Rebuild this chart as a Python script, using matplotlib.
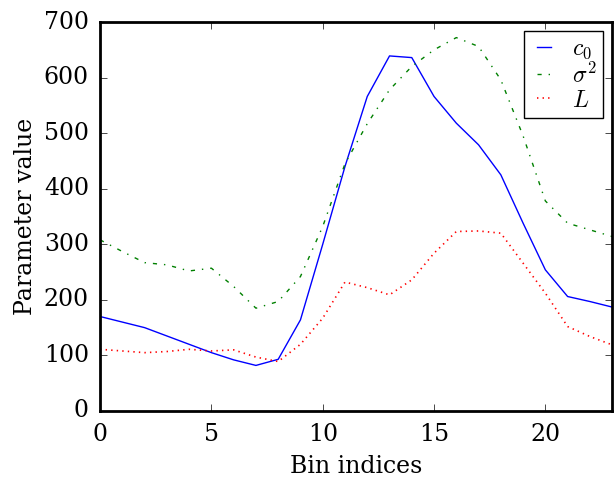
"""Parameter values per bin: c0, sigma^2 and L."""
import matplotlib
matplotlib.use("Agg")
import matplotlib.pyplot as plt

bins = list(range(24))
c0 = [170, 160, 150, 135, 120, 105, 92, 82, 93, 164, 300, 440,
      566, 639, 636, 566, 518, 479, 425, 338, 254, 206, 197, 187]
sigma2 = [308, 287, 267, 263, 252, 257, 224, 185, 197, 242, 332, 445,
          517, 578, 620, 650, 672, 656, 596, 495, 378, 338, 326, 314]
L = [111, 108, 105, 107, 111, 108, 110, 97, 89, 120, 167, 232,
     222, 209, 236, 284, 323, 324, 320, 266, 212, 152, 134, 119]

plt.style.use("classic")
plt.rcParams.update({
    "font.family": "serif",
    "font.serif": ["DejaVu Serif"],
    "font.size": 17,
    "mathtext.fontset": "cm",
    "figure.facecolor": "white",
    "savefig.facecolor": "white",
    "axes.linewidth": 2.0,
    "xtick.major.pad": 9,
    "ytick.major.pad": 8,
    "xtick.major.size": 5,
    "ytick.major.size": 5,
})

fig = plt.figure(figsize=(6.14, 4.79), dpi=100)
ax = fig.add_axes([0.163, 0.142, 0.834, 0.812])

ax.plot(bins, c0, "b-", lw=1.0, label=r"$c_0$")
ax.plot(bins, sigma2, "g-.", lw=1.0, label=r"$\sigma^2$")
ax.plot(bins, L, "r:", lw=1.2, label=r"$L$")

ax.set_xlim(0, 23)
ax.set_ylim(0, 700)
ax.set_xticks([0, 5, 10, 15, 20])
ax.set_yticks(range(0, 701, 100))
ax.set_xlabel("Bin indices", labelpad=6)
ax.set_ylabel("Parameter value")

leg = ax.legend(loc="upper right", fontsize=17, handlelength=1.2,
                borderpad=0.25, labelspacing=0.05, handletextpad=0.6,
                borderaxespad=0.4, fancybox=False)
leg.get_frame().set_linewidth(1.0)

fig.savefig("out.png", dpi=100)
